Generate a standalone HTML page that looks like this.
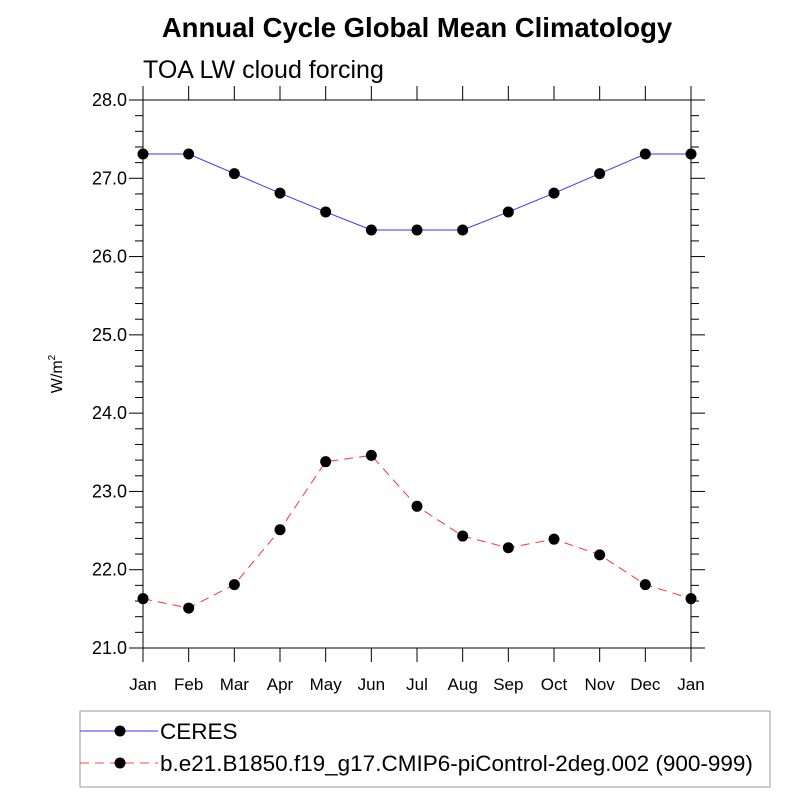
<!DOCTYPE html>
<html><head><meta charset="utf-8"><style>body{margin:0;background:#fff}svg{display:block;font-family:"Liberation Sans",sans-serif}</style></head>
<body>
<svg id="chart" width="800" height="800" viewBox="0 0 800 800">
<text x="417" y="37" text-anchor="middle" font-size="27.5" font-weight="bold">Annual Cycle Global Mean Climatology</text>
<text x="143" y="78" font-size="25">TOA LW cloud forcing</text>
<text transform="translate(62,374) rotate(-90)" text-anchor="middle" font-size="16">W/m<tspan font-size="10" dy="-7">2</tspan></text>
<g id="axes"></g><g id="series"></g>
<rect x="80" y="711" width="690" height="76" fill="none" stroke="#999" stroke-width="1"/>
<g>
<line x1="80" y1="731" x2="158" y2="731" stroke="#3333ff" stroke-width="1"/><circle cx="120" cy="731" r="5.5"/>
<text x="160" y="739" font-size="22.5">CERES</text></g>
<g>
<line x1="80" y1="763" x2="158" y2="763" stroke="#ff4444" stroke-width="1" stroke-dasharray="9,6"/><circle cx="120" cy="763" r="5.5"/>
<text x="160" y="771" font-size="22.5">b.e21.B1850.f19_g17.CMIP6-piControl-2deg.002 (900-999)</text></g>
</svg>
<script>
const months=["Jan","Feb","Mar","Apr","May","Jun","Jul","Aug","Sep","Oct","Nov","Dec","Jan"];
const ceres=[27.31,27.31,27.06,26.81,26.57,26.34,26.34,26.34,26.57,26.81,27.06,27.31,27.31];
const model=[21.63,21.51,21.81,22.51,23.38,23.46,22.81,22.43,22.28,22.39,22.19,21.81,21.63];
const yTicks=[21,22,23,24,25,26,27,28];
const NS="http://www.w3.org/2000/svg";
const L=143,R=691,T=100,B=648,ymin=21,ymax=28;
const x=i=>L+(R-L)*i/(months.length-1);
const y=v=>B-(v-ymin)/(ymax-ymin)*(B-T);
function mk(tag,at,parent){const e=document.createElementNS(NS,tag);for(const k in at)e.setAttribute(k,at[k]);parent.appendChild(e);return e;}
const ax=document.getElementById('axes');
const fr=mk('rect',{x:L,y:T,width:R-L,height:B-T,fill:'none',stroke:'#000','stroke-width':1},ax);


for(let v=ymin;v<=ymax+1e-6;v+=0.2){const yy=y(v);const maj=Math.abs(v-Math.round(v))<1e-6;const len=maj?14:8;
mk('line',{x1:L-len,y1:yy,x2:L,y2:yy,stroke:'#000'},ax);mk('line',{x1:R,y1:yy,x2:R+len,y2:yy,stroke:'#000'},ax);}
yTicks.forEach(v=>{const t=mk('text',{x:L-16,y:y(v)+6,'text-anchor':'end','font-size':18},ax);t.textContent=v.toFixed(1);

});
months.forEach((m,i)=>{const xx=x(i);mk('line',{x1:xx,y1:B,x2:xx,y2:B+14,stroke:'#000'},ax);mk('line',{x1:xx,y1:T-14,x2:xx,y2:T,stroke:'#000'},ax);
const t=mk('text',{x:xx,y:B+42,'text-anchor':'middle','font-size':17},ax);t.textContent=m;

});
const sg=document.getElementById('series');
function series(d,col,dash,name){const g=mk('g',{},sg);


mk('polyline',{points:d.map((v,i)=>x(i)+','+y(v)).join(' '),fill:'none',stroke:col,'stroke-width':1,'stroke-dasharray':dash},g);
d.forEach((v,i)=>{const c=mk('circle',{cx:x(i),cy:y(v),r:5.5,fill:'#000'},g);

});}
series(ceres,'#3333ff','none','ceres-series');
series(model,'#ff3333','9,6','model-series');
</script>
</body></html>
